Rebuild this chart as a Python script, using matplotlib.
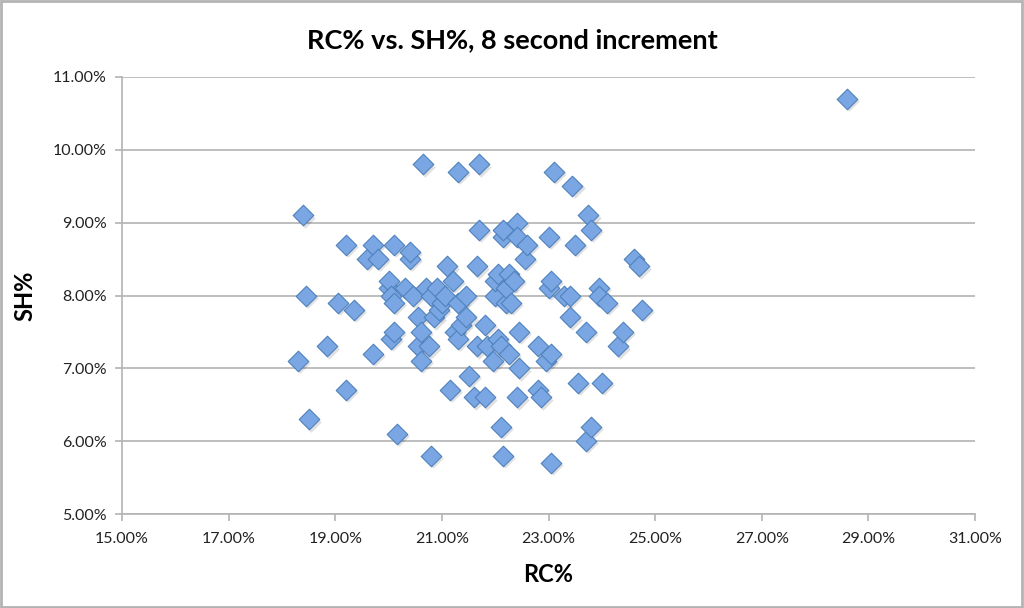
import matplotlib
matplotlib.use("Agg")
import matplotlib.pyplot as plt
from matplotlib.ticker import FuncFormatter
from matplotlib.patches import Rectangle

# RC% and SH% values (in percent)
rc = [18.3, 18.4, 18.45, 18.5, 18.85, 19.05, 19.2, 19.2, 19.35, 19.6,
      19.7, 19.7, 19.8, 20.0, 20.0, 20.05, 20.05, 20.1, 20.1, 20.1,
      20.15, 20.3, 20.4, 20.4, 20.45, 20.55, 20.55, 20.6, 20.6, 20.65,
      20.7, 20.75, 20.8, 20.8, 20.85, 20.9, 20.95, 21.0, 21.05, 21.1,
      21.15, 21.2, 21.25, 21.3, 21.3, 21.3, 21.35, 21.45, 21.45, 21.5,
      21.6, 21.65, 21.65, 21.7, 21.7, 21.8, 21.8, 21.85, 21.95, 22.0,
      22.0, 22.05, 22.05, 22.1, 22.1, 22.15, 22.15, 22.15, 22.2, 22.2,
      22.25, 22.25, 22.3, 22.35, 22.4, 22.4, 22.4, 22.45, 22.45, 22.55,
      22.6, 22.8, 22.8, 22.85, 22.95, 23.0, 23.0, 23.05, 23.05, 23.05,
      23.1, 23.3, 23.4, 23.4, 23.45, 23.5, 23.55, 23.7, 23.7, 23.75,
      23.8, 23.8, 23.95, 23.95, 24.0, 24.1, 24.3, 24.4, 24.6, 24.7,
      24.75, 28.6]
sh = [7.1, 9.1, 8.0, 6.3, 7.3, 7.9, 8.7, 6.7, 7.8, 8.5,
      8.7, 7.2, 8.5, 8.1, 8.2, 8.0, 7.4, 7.5, 8.7, 7.9,
      6.1, 8.1, 8.5, 8.6, 8.0, 7.3, 7.7, 7.5, 7.1, 9.8,
      8.1, 7.3, 8.0, 5.8, 7.7, 8.1, 7.8, 7.9, 8.0, 8.4,
      6.7, 8.2, 7.5, 7.9, 9.7, 7.4, 7.6, 8.0, 7.7, 6.9,
      6.6, 8.4, 7.3, 8.9, 9.8, 7.6, 6.6, 7.3, 7.1, 8.0,
      8.2, 8.3, 7.4, 7.3, 6.2, 5.8, 8.8, 8.9, 7.9, 8.1,
      8.3, 7.2, 7.9, 8.2, 9.0, 6.6, 8.8, 7.5, 7.0, 8.5,
      8.7, 7.3, 6.7, 6.6, 7.1, 8.8, 8.1, 8.2, 7.2, 5.7,
      9.7, 8.0, 7.7, 8.0, 9.5, 8.7, 6.8, 7.5, 6.0, 9.1,
      8.9, 6.2, 8.1, 8.0, 6.8, 7.9, 7.3, 7.5, 8.5, 8.4,
      7.8, 10.7]

x_ticks = [15, 17, 19, 21, 23, 25, 27, 29, 31]
y_ticks = [5, 6, 7, 8, 9, 10, 11]
title = "RC% vs. SH%, 8 second increment"

plt.rcParams['font.family'] = ['Lato', 'DejaVu Sans']

fig = plt.figure(figsize=(10.24, 6.08), dpi=100)
ax = fig.add_axes([122 / 1024, 1 - 514 / 608, (975 - 122) / 1024, (514 - 77) / 608])

# shadow then marker
ax.scatter([x + 0.04 for x in rc], [y - 0.03 for y in sh], marker='D', s=110,
           color='#000000', alpha=0.12, linewidths=0, zorder=2)
ax.scatter(rc, sh, marker='D', s=110, facecolor='#7aa7e3', edgecolor='#4f81bd',
           linewidths=0.8, zorder=3)

ax.set_xlim(15, 31)
ax.set_ylim(5, 11)
ax.set_xticks(x_ticks)
ax.set_yticks(y_ticks)
pct = FuncFormatter(lambda v, p: f"{v:.2f}%")
ax.xaxis.set_major_formatter(pct)
ax.yaxis.set_major_formatter(pct)

ax.grid(axis='y', color='#b3b3b3', linewidth=1.2, zorder=0)
ax.set_axisbelow(True)
for s in ['top', 'right']:
    ax.spines[s].set_visible(False)
for s in ['left', 'bottom']:
    ax.spines[s].set_color('#b3b3b3')
    ax.spines[s].set_linewidth(1.2)
ax.tick_params(axis='both', colors='#b3b3b3', labelcolor='#222222',
               labelsize=11.5, length=5, width=1.2)
ax.tick_params(axis='x', pad=8)
ax.tick_params(axis='y', pad=6)

ax.set_xlabel("RC%", fontsize=17, fontweight='bold', labelpad=12)
ax.set_ylabel("SH%", fontsize=17, fontweight='bold', labelpad=12)
fig.text(0.5, 1 - 40 / 608, title, ha='center', va='center',
         fontsize=19.5, fontweight='bold')

fig.patches.append(Rectangle((0.001, 0.001), 0.997, 0.997, transform=fig.transFigure,
                             fill=False, edgecolor='#b3b3b3', linewidth=2))

fig.savefig("out.png", dpi=100)
